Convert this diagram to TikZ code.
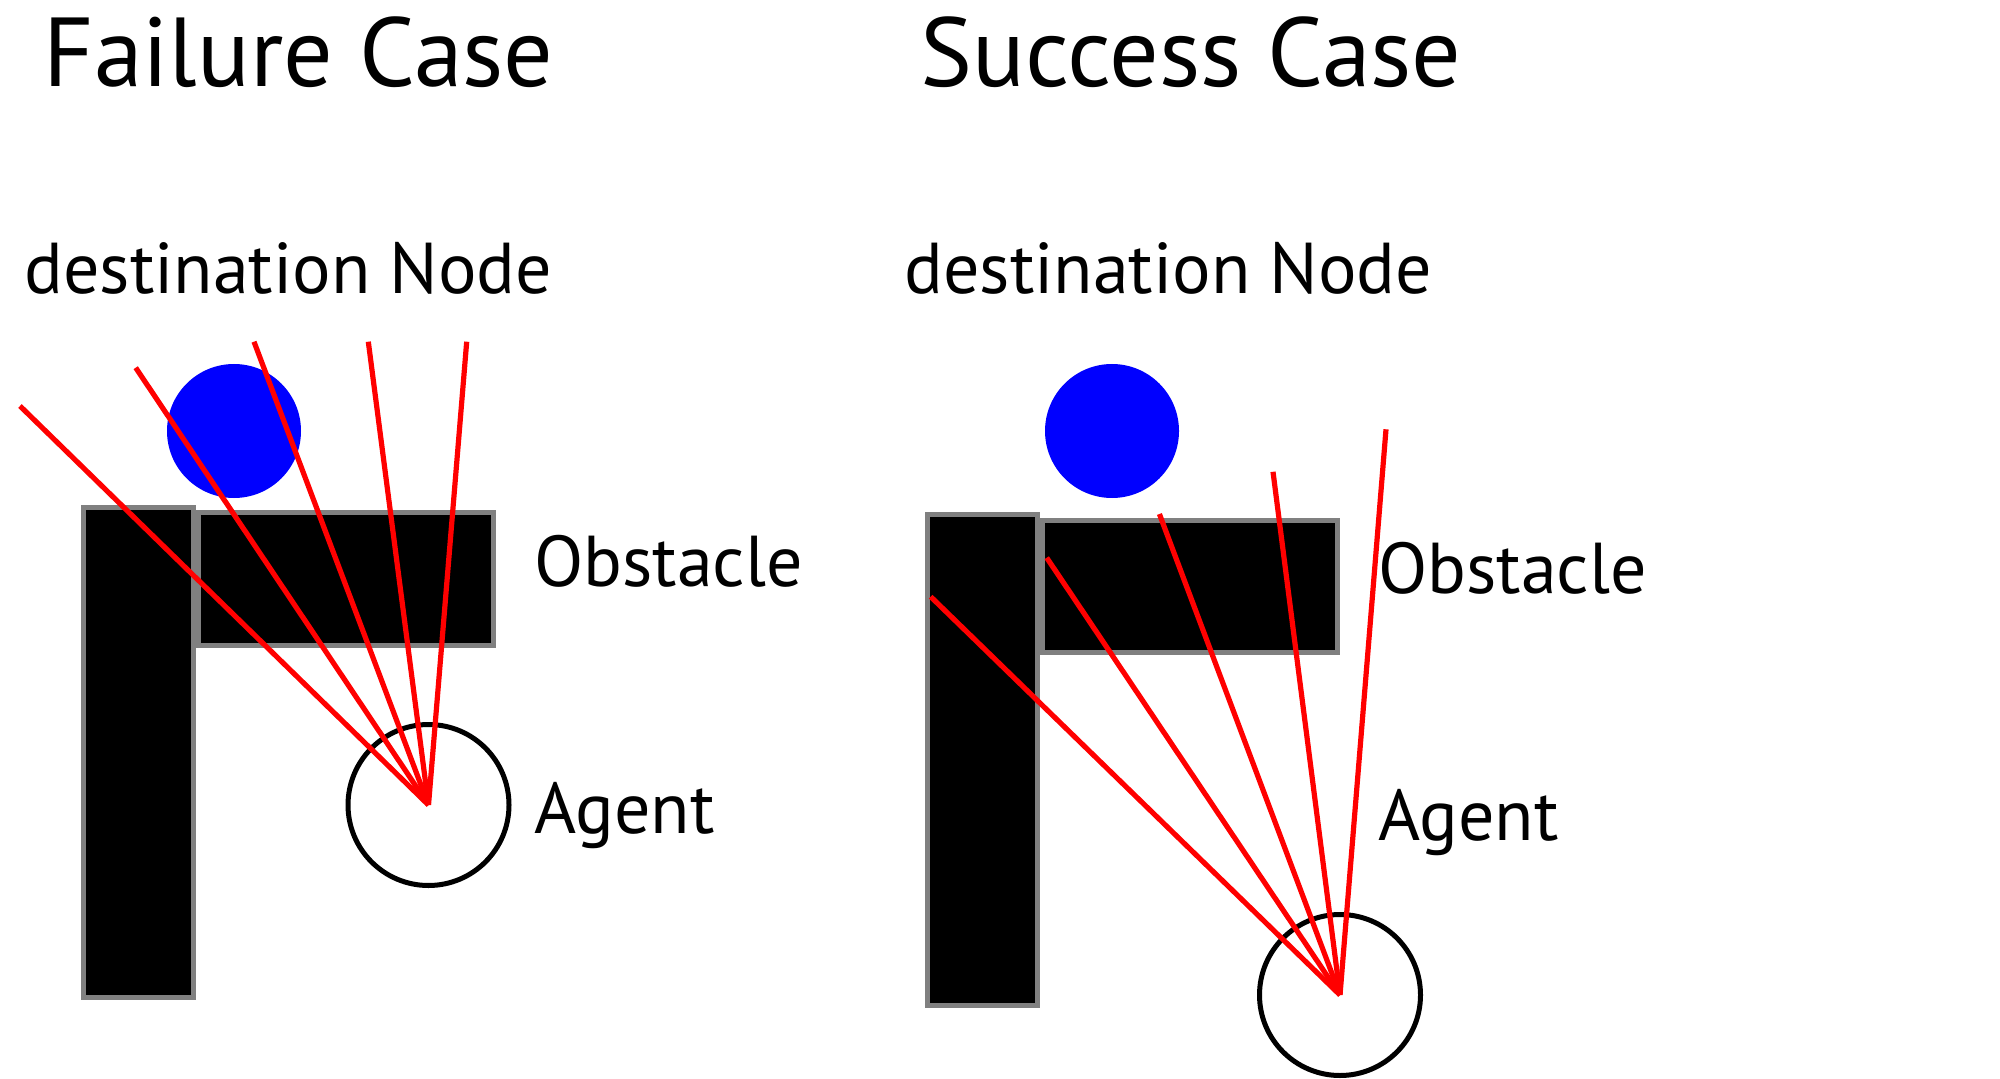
\documentclass[tikz,border=0pt]{standalone}
\usepackage{fontspec}
\setmainfont{PT Sans}
\usepackage{tikz}

\begin{document}
\begin{tikzpicture}[x=0.5pt,y=0.5pt,yscale=-1,xscale=1,
  obstacle/.style={draw={rgb,255:red,128;green,128;blue,128},fill=black,line width=2.5pt},
  goal/.style={circle,fill={rgb,255:red,0;green,0;blue,255},inner sep=0pt,minimum size=67pt},
  agent/.style={circle,draw=black,line width=2.5pt,inner sep=0pt,minimum size=80.5pt},
  ray/.style={draw={rgb,255:red,255;green,0;blue,0},line width=2.6pt},
  title/.style={anchor=base west,inner sep=0pt,font=\fontsize{49}{59}\selectfont},
  tag/.style={anchor=base west,inner sep=0pt,font=\fontsize{36}{43}\selectfont}]
\useasboundingbox (0,0) rectangle (2000,1079);

%%% Failure case
%Shape: Rectangle
\draw [obstacle] (83.5,507) rectangle (193.8,997.5) ;
%Shape: Rectangle
\draw [obstacle] (198.5,512.5) rectangle (493.5,645.3) ;
%Shape: Circle
\node [goal] (goalL) at (234,431) {} ;
%Shape: Circle
\node [agent] (agentL) at (428.5,805) {} ;

%Straight Lines
\coordinate (rayL1) at (20,406) ;
\coordinate (rayL2) at (135.7,367.7) ;
\coordinate (rayL3) at (254,341.7) ;
\coordinate (rayL4) at (368.3,341.7) ;
\coordinate (rayL5) at (466.7,341.7) ;
\draw [ray] (agentL.center) -- (rayL1) ;
\draw [ray] (agentL.center) -- (rayL2) ;
\draw [ray] (agentL.center) -- (rayL3) ;
\draw [ray] (agentL.center) -- (rayL4) ;
\draw [ray] (agentL.center) -- (rayL5) ;

% Text Node
\node [title] (titleL) at (43,87) {Failure Case} ;
% Text Node
\node [tag] (destL) at (24,294) {destination Node} ;
% Text Node
\node [tag] (obstL) at (534,586) {Obstacle} ;
% Text Node
\node [tag] (agentTagL) at (534,833) {Agent} ;

%%% Success case
%Shape: Rectangle
\draw [obstacle] (927.5,514.5) rectangle (1037.8,1005) ;
%Shape: Rectangle
\draw [obstacle] (1042.5,520) rectangle (1337.5,652.8) ;
%Shape: Circle
\node [goal] (goalR) at (1112,431) {} ;
%Shape: Circle
\node [agent] (agentR) at (1340,995) {} ;

%Straight Lines
\coordinate (rayR1) at (930.7,596.7) ;
\coordinate (rayR2) at (1046.7,557.7) ;
\coordinate (rayR3) at (1159.4,514) ;
\coordinate (rayR4) at (1273,471.8) ;
\coordinate (rayR5) at (1386,429.3) ;
\draw [ray] (agentR.center) -- (rayR1) ;
\draw [ray] (agentR.center) -- (rayR2) ;
\draw [ray] (agentR.center) -- (rayR3) ;
\draw [ray] (agentR.center) -- (rayR4) ;
\draw [ray] (agentR.center) -- (rayR5) ;

% Text Node
\node [title] (titleR) at (920,87) {Success Case} ;
% Text Node
\node [tag] (destR) at (904,294) {destination Node} ;
% Text Node
\node [tag] (obstR) at (1378,593) {Obstacle} ;
% Text Node
\node [tag] (agentTagR) at (1378,840) {Agent} ;

\end{tikzpicture}
\end{document}
